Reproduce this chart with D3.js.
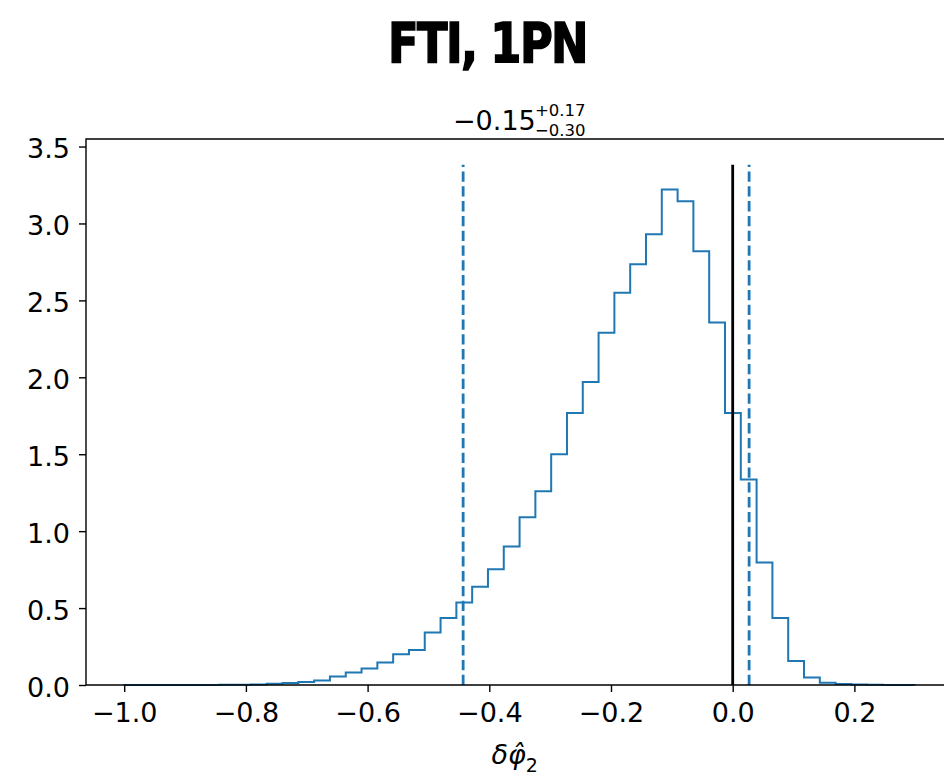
<!DOCTYPE html>
<html>
<head>
<meta charset="utf-8">
<script src="https://cdn.jsdelivr.net/npm/d3@7"></script>
<style>
  body { margin: 0; background: #fff; }
  svg { display: block; }
</style>
</head>
<body>
<div id="chart"></div>
<script>
// title + summary of the posterior
const titleText = "FTI, 1PN";
const medianText = "\u22120.15";
const upperText = "+0.17";
const lowerText = "\u22120.30";

// histogram: 50 equal bins between binLo and binHi, density per bin
const binLo = -0.9995;
const binHi = 0.2990;
const density = [
  0.0003, 0.0, 0.0, 0.0003, 0.0006, 0.0008, 0.001, 0.002, 0.004, 0.008,
  0.013, 0.02, 0.03, 0.055, 0.082, 0.108, 0.147, 0.20, 0.227, 0.342,
  0.435, 0.537, 0.638, 0.753, 0.90, 1.09, 1.26, 1.50, 1.768, 1.97,
  2.29, 2.55, 2.735, 2.93, 3.221, 3.145, 2.82, 2.356, 1.768, 1.336,
  0.797, 0.435, 0.156, 0.048, 0.015, 0.006, 0.003, 0.0015, 0.0008, 0.0004
];

// credible interval bounds and injected value
const ciBounds = [-0.443, 0.027];
const truthValue = 0.0;

const xTicks = [-1.0, -0.8, -0.6, -0.4, -0.2, 0.0, 0.2];
const yTicks = [0.0, 0.5, 1.0, 1.5, 2.0, 2.5, 3.0, 3.5];

const W = 944, H = 778;
const plot = {left: 86, top: 139, right: 956, bottom: 685};
const blue = "#1f77b4";
const tickFont = "27px";

const x = d3.scaleLinear().domain([-1.0628, 0.367]).range([plot.left, plot.right]);
const y = d3.scaleLinear().domain([0, 3.549]).range([plot.bottom, plot.top]);

const svg = d3.select("#chart")
  .append("svg")
  .attr("width", W)
  .attr("height", H)
  .style("font-family", "'DejaVu Sans', sans-serif");

svg.append("rect").attr("width", W).attr("height", H).attr("fill", "#fff");

//////////////////////////////////////////////////////////////
//                         histogram
//////////////////////////////////////////////////////////////

const binW = (binHi - binLo) / density.length;
const stepPts = [[binLo, 0]];
density.forEach((d, i) => {
  stepPts.push([binLo + i * binW, d]);
  stepPts.push([binLo + (i + 1) * binW, d]);
});
stepPts.push([binHi, 0]);

svg.append("path")
  .attr("d", d3.line().x(p => x(p[0])).y(p => y(p[1]))(stepPts))
  .attr("fill", "none")
  .attr("stroke", blue)
  .attr("stroke-width", 2)
  .attr("stroke-linejoin", "miter");

// vertical lines reach 1.05 * highest bin
const lineTop = d3.max(density) * 1.05;

svg.selectAll(".ci")
  .data(ciBounds)
  .enter()
  .append("line")
  .attr("class", "ci")
  .attr("x1", d => x(d)).attr("x2", d => x(d))
  .attr("y1", y(0)).attr("y2", y(lineTop))
  .attr("stroke", blue)
  .attr("stroke-width", 2.8)
  .attr("stroke-dasharray", "10.3,4.5");

svg.append("line")
  .attr("x1", x(truthValue)).attr("x2", x(truthValue))
  .attr("y1", y(0)).attr("y2", y(lineTop))
  .attr("stroke", "#000")
  .attr("stroke-width", 2.8);

//////////////////////////////////////////////////////////////
//                         axes
//////////////////////////////////////////////////////////////

const fmt = d => d3.format(".1f")(d).replace("-", "\u2212");

const xAxis = svg.append("g")
  .attr("transform", `translate(0,${plot.bottom})`)
  .call(d3.axisBottom(x).tickValues(xTicks).tickFormat(fmt).tickSize(7).tickPadding(11));

const yAxis = svg.append("g")
  .attr("transform", `translate(${plot.left},0)`)
  .call(d3.axisLeft(y).tickValues(yTicks).tickFormat(fmt).tickSize(7).tickPadding(9));

[xAxis, yAxis].forEach(g => {
  g.select(".domain").remove();
  g.selectAll(".tick line").attr("stroke", "#000").attr("stroke-width", 1.4);
  g.selectAll(".tick text")
    .attr("fill", "#000")
    .style("font-size", tickFont)
    .style("font-family", "'DejaVu Sans', sans-serif");
});
yAxis.selectAll(".tick text").attr("dy", "0.42em");

// spines (left, bottom, top; right one falls outside the picture)
svg.append("path")
  .attr("d", `M${plot.right},${plot.top}H${plot.left}V${plot.bottom}H${plot.right}`)
  .attr("fill", "none")
  .attr("stroke", "#000")
  .attr("stroke-width", 1.4);

//////////////////////////////////////////////////////////////
//                         texts
//////////////////////////////////////////////////////////////

svg.append("text")
  .attr("x", 388)
  .attr("y", 62)
  .attr("textLength", 199)
  .attr("lengthAdjust", "spacingAndGlyphs")
  .style("font-size", "55px")
  .style("font-weight", "bold")
  .style("letter-spacing", "-2px")
  .attr("stroke", "#000")
  .attr("stroke-width", 1.6)
  .text(titleText);

// median with +upper / -lower stacked on the right
const summary = svg.append("text")
  .attr("x", 453).attr("y", 130)
  .style("font-size", tickFont);
summary.append("tspan").text(medianText);
summary.append("tspan")
  .attr("x", 535).attr("y", 116)
  .style("font-size", "16.5px")
  .text(upperText);
summary.append("tspan")
  .attr("x", 535).attr("y", 135.5)
  .style("font-size", "16.5px")
  .text(lowerText);

const xLabel = svg.append("text")
  .attr("x", 491.5).attr("y", 764)
  .style("font-size", tickFont)
  .style("font-style", "italic");
xLabel.append("tspan").text("\u03b4\u03c6\u0302");
xLabel.append("tspan").attr("dy", 8).style("font-size", "19px").style("font-style", "normal").text("2");
</script>
</body>
</html>
